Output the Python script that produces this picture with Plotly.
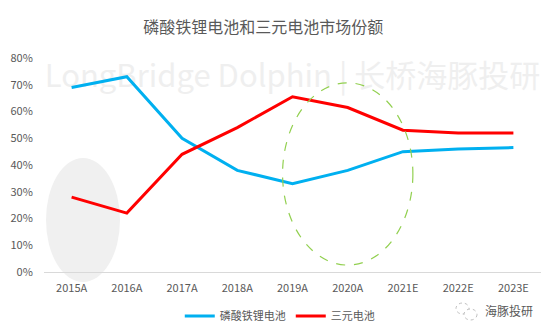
import plotly.graph_objects as go

categories = ["2015A", "2016A", "2017A", "2018A", "2019A", "2020A", "2021E", "2022E", "2023E"]
lfp_share = [0.69, 0.73, 0.50, 0.38, 0.33, 0.38, 0.45, 0.46, 0.465]
ncm_share = [0.28, 0.22, 0.44, 0.54, 0.655, 0.615, 0.53, 0.52, 0.52]
y_ticks = [0, 0.1, 0.2, 0.3, 0.4, 0.5, 0.6, 0.7, 0.8]
y_tick_labels = ["0%", "10%", "20%", "30%", "40%", "50%", "60%", "70%", "80%"]

FONT = "Noto Sans CJK SC"
fig = go.Figure()

# watermark text (drawn first so it is beneath the lines)
fig.add_trace(go.Scatter(x=["2019A"], y=[0.72], mode="text",
                         text=["LongBridge Dolphin | 长桥海豚投研"], textposition="middle center",
                         textfont=dict(family=FONT, size=31, color="#EFEFEF"),
                         cliponaxis=False, showlegend=False, hoverinfo="skip"))

fig.add_trace(go.Scatter(x=categories, y=lfp_share, mode="lines", name="磷酸铁锂电池",
                         line=dict(color="#00B0F0", width=3)))
fig.add_trace(go.Scatter(x=categories, y=ncm_share, mode="lines", name="三元电池",
                         line=dict(color="#FF0000", width=3)))

def px_x(p):
    return (p - 44) / 497.0

def px_y(p):
    return (272 - p) / 214.0

# watermark logo ellipse
fig.add_shape(type="circle", xref="paper", yref="paper", x0=px_x(46), x1=px_x(120),
              y0=px_y(282), y1=px_y(158),
              fillcolor="#F0F0F0", line=dict(width=0), layer="below")
# dashed ellipse highlight
fig.add_shape(type="circle", xref="x", yref="y", x0=3.82, x1=6.18, y0=0.026, y1=0.707,
              line=dict(color="#92D050", width=1.2, dash="dash"))
# small wechat-like icon
fig.add_shape(type="circle", xref="paper", yref="paper", x0=px_x(456), x1=px_x(469),
              y0=px_y(314), y1=px_y(303), line=dict(color="#BFBFBF", width=1, dash="dot"))
fig.add_shape(type="circle", xref="paper", yref="paper", x0=px_x(464), x1=px_x(477),
              y0=px_y(320), y1=px_y(309), line=dict(color="#BFBFBF", width=1, dash="dot"),
              fillcolor="white")

fig.add_annotation(text="海豚投研", xref="paper", yref="paper", x=px_x(535), y=px_y(310),
                   showarrow=False, xanchor="right", yanchor="middle",
                   font=dict(family=FONT, size=12, color="#595959"))

fig.update_layout(
    width=554, height=336,
    margin=dict(l=44, r=13, t=58, b=64, autoexpand=False),
    paper_bgcolor="white", plot_bgcolor="white",
    title=dict(text="磷酸铁锂电池和三元电池市场份额", x=0.475, xanchor="center",
               y=(336 - 27) / 336.0, yanchor="middle",
               font=dict(family=FONT, size=16, color="#595959")),
    font=dict(family=FONT, size=11, color="#595959"),
    showlegend=True,
    legend=dict(orientation="h", x=0.505, xanchor="center", xref="container",
                y=(336 - 316) / 336.0, yanchor="middle", yref="container",
                font=dict(family=FONT, size=11, color="#595959")),
    xaxis=dict(showgrid=False, showline=True, linecolor="#D9D9D9", linewidth=1,
               categoryorder="array", categoryarray=categories,
               range=[-0.5, 8.5], ticks="outside", ticklen=6, tickcolor="rgba(0,0,0,0)",
               tickfont=dict(size=11, color="#595959"), zeroline=False),
    yaxis=dict(range=[0, 0.8], tickvals=y_ticks, ticktext=y_tick_labels, showgrid=False,
               showline=False, zeroline=False, ticks="outside", ticklen=8, tickcolor="rgba(0,0,0,0)",
               tickfont=dict(size=11, color="#595959")),
)

fig.write_html("out.html")
